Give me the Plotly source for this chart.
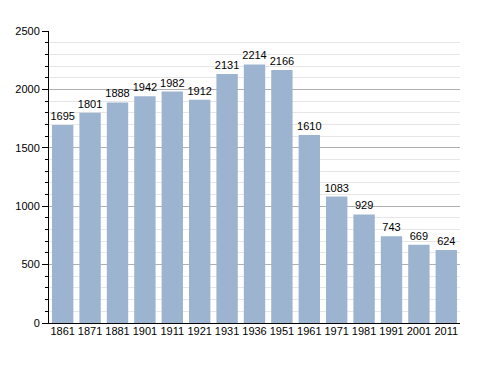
import plotly.graph_objects as go

years = ["1861","1871","1881","1901","1911","1921","1931","1936","1951","1961","1971","1981","1991","2001","2011"]
population = [1695,1801,1888,1942,1982,1912,2131,2214,2166,1610,1083,929,743,669,624]
y_ticks = [0,500,1000,1500,2000,2500]

fig = go.Figure(go.Bar(
    x=years, y=population,
    text=[str(v) for v in population], textposition="outside",
    textfont=dict(size=11, color="black", family="Liberation Sans, Arial"),
    constraintext="none",
    marker=dict(color="#9db4d0", line=dict(width=0)),
    cliponaxis=False,
))
# page body has an 8px default margin, compensated here
fig.update_layout(
    width=488, height=373,
    margin=dict(l=41, r=36, t=23, b=58, autoexpand=False),
    paper_bgcolor="white", plot_bgcolor="white",
    bargap=0.22,
    showlegend=False,
    font=dict(family="Liberation Sans, Arial", size=11, color="black"),
)
fig.update_xaxes(
    type="category", showline=True, linecolor="black", linewidth=1,
    ticks="", tickfont=dict(size=11), showgrid=False, automargin=False,
    ticklabelstandoff=-2,
)
fig.update_yaxes(
    range=[0,2500], tickvals=y_ticks, showline=True, linecolor="black", linewidth=1,
    ticks="outside", ticklen=6, tickcolor="black", tickfont=dict(size=11),
    showgrid=True, gridcolor="#b0b0b0", gridwidth=1, zeroline=False, automargin=False,
    minor=dict(dtick=100, ticks="outside", ticklen=3, tickcolor="black",
               showgrid=True, gridcolor="#e6e6e6", gridwidth=1),
)
fig.write_html("out.html")
